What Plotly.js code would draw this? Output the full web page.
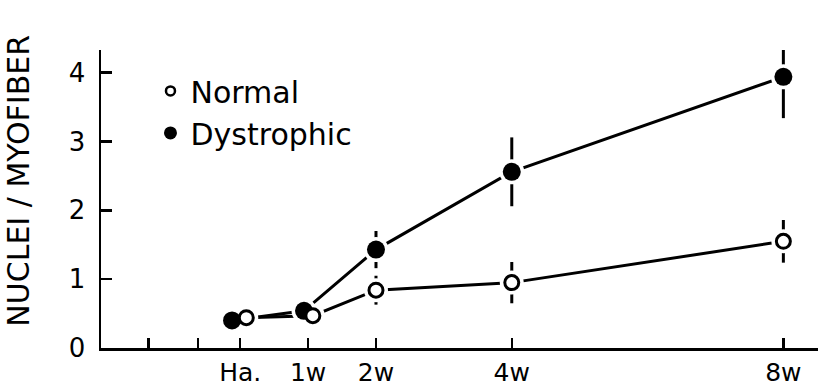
<!DOCTYPE html>
<html>
<head>
<meta charset="utf-8">
<script src="https://cdn.plot.ly/plotly-3.0.1.min.js"></script>
<style>html,body{margin:0;padding:0;background:#fff;}#chart{width:818px;height:389px;}</style>
</head>
<body>
<div id="chart"></div>
<script>
// ---- data ----
var weeks = [0, 1, 2, 4, 8];
var tickLabels = ["Ha.", "1w", "2w", "4w", "8w"];
var extraTicks = [-1.35, -0.62];           // unlabeled ticks left of hatching
var normal = [0.44, 0.47, 0.84, 0.95, 1.55];
var normalErr = [0, 0, 0.21, 0.30, 0.31];
var dystrophic = [0.40, 0.54, 1.43, 2.56, 3.94];
var dystrophicErr = [0, 0, 0.27, 0.50, 0.60];
var yTitle = 'NUCLEI / MYOFIBER';

// small horizontal offsets so overlapping symbols stay visible (as in the original)
var normalShift = [0.09, 0.07, 0, 0, 0];
var dystrophicShift = [-0.12, -0.06, 0, 0, 0];

function shifted(xs, sh) { return xs.map(function (v, i) { return v + sh[i]; }); }
var xN = shifted(weeks, normalShift);
var xD = shifted(weeks, dystrophicShift);

var K = '#000';
var traces = [
  { x: xD, y: dystrophic, mode: 'lines', line: { color: K, width: 3 }, showlegend: false,
    error_y: { type: 'data', array: dystrophicErr, visible: true, color: K, thickness: 3, width: 0 }, hoverinfo: 'skip' },
  { x: xN, y: normal, mode: 'lines', line: { color: K, width: 3 }, showlegend: false,
    error_y: { type: 'data', array: normalErr, visible: true, color: K, thickness: 3, width: 0 }, hoverinfo: 'skip' },
  { x: xD, y: dystrophic, mode: 'markers', marker: { color: '#fff', size: 25 }, showlegend: false, hoverinfo: 'skip' },
  { x: xN, y: normal, mode: 'markers', marker: { color: '#fff', size: 24 }, showlegend: false, hoverinfo: 'skip' },
  { x: xD, y: dystrophic, mode: 'markers', name: 'Dystrophic', showlegend: false,
    marker: { color: K, size: 18, line: { width: 0 } } },
  { x: xN, y: normal, mode: 'markers', name: 'Normal', showlegend: false,
    marker: { color: '#fff', size: 14, line: { color: K, width: 3 } } },
  { x: [null], y: [null], mode: 'markers', name: 'Normal',
    marker: { color: '#fff', size: 9, line: { color: K, width: 2.5 } } },
  { x: [null], y: [null], mode: 'markers', name: 'Dystrophic',
    marker: { color: K, size: 13 } }
];

var font = 'DejaVu Sans, sans-serif';
var layout = {
  width: 818, height: 389,
  margin: { l: 101, r: 0, t: 50, b: 41 },
  paper_bgcolor: '#fff', plot_bgcolor: '#fff',
  font: { family: font, color: K },
  showlegend: true,
  legend: { x: 0.069, y: 0.95, xanchor: 'left', yanchor: 'top', bgcolor: 'rgba(0,0,0,0)',
            font: { size: 30, family: font, color: K }, traceorder: 'normal', itemsizing: 'trace' },
  xaxis: {
    range: [-2.05, 8.51], showgrid: false, zeroline: false,
    showline: true, linecolor: K, linewidth: 3,
    tickmode: 'array',
    tickvals: extraTicks.concat(weeks),
    ticktext: extraTicks.map(function () { return ''; }).concat(tickLabels),
    ticks: 'inside', ticklen: 10, tickwidth: 2.5, tickcolor: K,
    tickfont: { size: 25, family: font, color: K }, ticklabelstandoff: 0
  },
  yaxis: {
    range: [0, 4.33], showgrid: false, zeroline: false,
    showline: true, linecolor: K, linewidth: 2.5,
    tickmode: 'array', tickvals: [0, 1, 2, 3, 4], ticktext: ['0', '1', '2', '3', '4'],
    ticks: 'inside', ticklen: 11, tickwidth: 2.5, tickcolor: K,
    tickfont: { size: 26, family: font, color: K }, ticklabelstandoff: 8
  },
  annotations: [{
    text: yTitle, textangle: -90, showarrow: false,
    xref: 'paper', yref: 'paper', x: -0.115, y: 0.56, xanchor: 'center', yanchor: 'middle',
    font: { size: 30, family: font, color: K }
  }]
};

Plotly.newPlot('chart', traces, layout, { displayModeBar: false, staticPlot: true });
</script>
</body>
</html>
